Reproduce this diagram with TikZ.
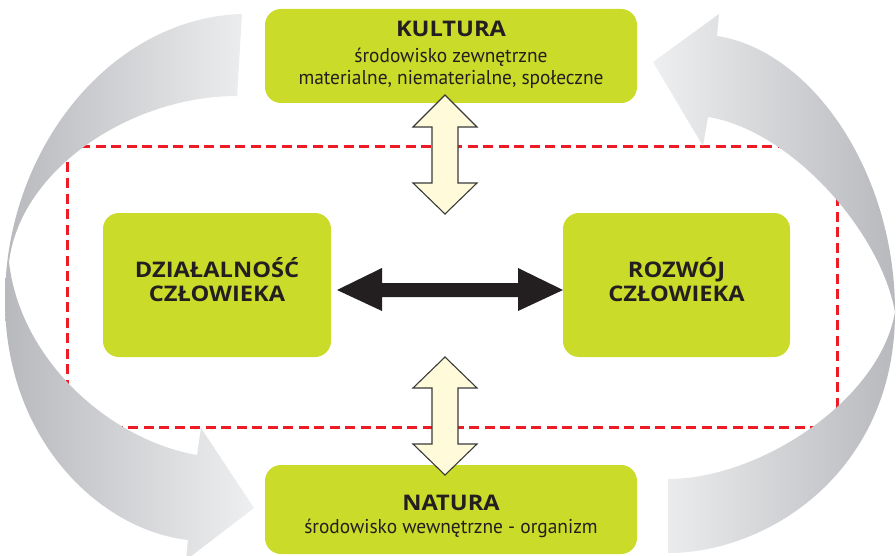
\documentclass[tikz,border=0pt]{standalone}
\usepackage{fontspec}
\setmainfont{PT Sans}
\newfontfamily\subfont{PT Sans}[FakeStretch=0.97]
\newfontfamily\titlefont{Open Sans}[FakeStretch=1.1]
\definecolor{boxgreen}{HTML}{CBDB2A}
\definecolor{txt}{HTML}{231F20}
\definecolor{cream}{HTML}{FFFBDA}
\definecolor{outl}{HTML}{3A3A3A}
\definecolor{dashred}{HTML}{ED1C24}
\definecolor{grayD}{HTML}{B8B9BD}
\definecolor{grayL}{HTML}{EEEFF0}
\begin{document}
\begin{tikzpicture}[x=1pt,y=-1pt,
  greenbox/.style={draw=none,fill=boxgreen,rounded corners=16pt,inner sep=0pt},
  titletext/.style={anchor=base,inner sep=0pt,text=txt,font=\titlefont\fontsize{21.5}{24}\selectfont\bfseries},
  subtext/.style={anchor=base,inner sep=0pt,text=txt,font=\subfont\fontsize{20}{22}\selectfont},
  cream arrow/.style={fill=cream,draw=outl,line width=1.1pt,line join=miter},
  grayband/.style={draw=none}]
\useasboundingbox (0,0) rectangle (896,556);
\fill[white] (0,0) rectangle (896,556);

% red dashed frame
\draw[dashred,line width=3pt,dash pattern=on 10pt off 5.5pt] (67,147) rectangle (837,427);

% left circular arrow
\shade[grayband,left color=grayD,right color=grayL]
  (242,14) .. controls (110,18) and (5,150) .. (5,300)
  .. controls (5,440) and (100,530) .. (188,540)
  -- (186,560) -- (254,508) -- (201,428) -- (197,455)
  .. controls (110,440) and (20,360) .. (9,262)
  .. controls (20,170) and (130,96) .. (237,96) -- cycle;

% right circular arrow
\shade[grayband,left color=grayL,right color=grayD]
  (653,62) -- (719,14) -- (717,36)
  .. controls (810,50) and (895,170) .. (895,312)
  .. controls (895,470) and (770,553) .. (668,553)
  -- (668,479)
  .. controls (760,479) and (880,400) .. (895,312)
  .. controls (880,230) and (790,130) .. (708,117)
  -- (703,146) -- cycle;

% boxes
\node[greenbox,minimum width=372pt,minimum height=94pt] (kultura) at (451,56) {};
\node[greenbox,minimum width=372pt,minimum height=89pt] (natura) at (451,509.5) {};
\node[greenbox,minimum width=228pt,minimum height=144pt] (dzial) at (217,285) {};
\node[greenbox,minimum width=227pt,minimum height=144pt] (rozwoj) at (676.5,285) {};

% vertical double arrows
\draw[cream arrow] (445,95) -- (477,127) -- (458,127) -- (458,183) -- (477,183) -- (445,214)
  -- (413,183) -- (432,183) -- (432,127) -- (413,127) -- cycle;
\draw[cream arrow] (445,357) -- (477,388) -- (458,388) -- (458,444) -- (477,444) -- (445,475)
  -- (413,444) -- (432,444) -- (432,388) -- (413,388) -- cycle;

% horizontal black double arrow
\fill[txt] (337,290) -- (382,268) -- (382,283) -- (518,283) -- (518,268) -- (563,290)
  -- (518,311) -- (518,297) -- (382,297) -- (382,311) -- cycle;

% texts
\node[titletext] (kt) at (451,37) {KULTURA};
\node[subtext] (ks1) at (451,63) {środowisko zewnętrzne};
\node[subtext] (ks2) at (451,85) {materialne, niematerialne, społeczne};
\node[titletext] (nt) at (451,510) {NATURA};
\node[subtext] (ns1) at (451,533) {środowisko wewnętrzne - organizm};
\node[titletext] (d1) at (217,277) {DZIAŁALNOŚĆ};
\node[titletext] (d2) at (217,301) {CZŁOWIEKA};
\node[titletext] (r1) at (676.5,277) {ROZWÓJ};
\node[titletext] (r2) at (676.5,301) {CZŁOWIEKA};
\end{tikzpicture}
\end{document}
